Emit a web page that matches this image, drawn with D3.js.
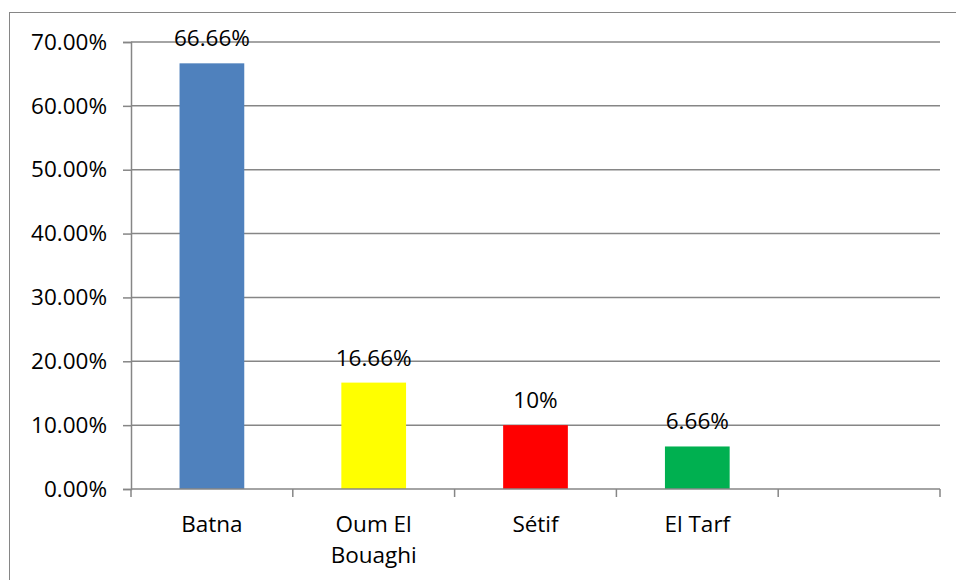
<!DOCTYPE html>
<html>
<head>
<meta charset="utf-8">
<script src="https://cdn.jsdelivr.net/npm/d3@7"></script>
<style>
  body { margin: 0; background: #fff; }
  text { font-family: "Open Sans", "Noto Sans", sans-serif; fill: #000; }
</style>
</head>
<body>
<script>
// chart data
const categories = ["Batna", "Oum El Bouaghi", "Sétif", "El Tarf", ""];
const values = [66.66, 16.66, 10, 6.66, null];
const valueLabels = ["66.66%", "16.66%", "10%", "6.66%", ""];
const barColors = ["#4F81BD", "#FFFF00", "#FF0000", "#00B050", "none"];
const yTicks = [0, 10, 20, 30, 40, 50, 60, 70];

const width = 956, height = 580;
const margin = { top: 42, right: 16, bottom: 91, left: 131 };
const fontSize = "22.5px";

const svg = d3.select("body").append("svg")
    .attr("width", width)
    .attr("height", height);

// outer chart border
svg.append("rect")
    .attr("x", 9.5).attr("y", 12.5)
    .attr("width", 960).attr("height", 600)
    .attr("fill", "none")
    .attr("stroke", "#868686")
    .attr("stroke-width", 1);

const x = d3.scaleBand()
    .domain(d3.range(categories.length))
    .range([margin.left, width - margin.right])
    .paddingInner(0.6)
    .paddingOuter(0.3);

const y = d3.scaleLinear()
    .domain([0, 70])
    .range([height - margin.bottom, margin.top]);

// gridlines
svg.append("g")
    .selectAll("line")
    .data(yTicks.filter(d => d > 0))
    .join("line")
    .attr("x1", margin.left)
    .attr("x2", width - margin.right)
    .attr("y1", d => y(d))
    .attr("y2", d => y(d))
    .attr("stroke", "#868686")
    .attr("stroke-width", 1.5);

// y axis
const yAxis = svg.append("g")
    .attr("transform", `translate(${margin.left},0)`)
    .call(d3.axisLeft(y).tickValues(yTicks).tickSize(8).tickPadding(16)
        .tickFormat(d => d.toFixed(2) + "%"));
yAxis.select(".domain").attr("stroke", "#868686").attr("stroke-width", 1.5);
yAxis.selectAll(".tick line").attr("stroke", "#868686").attr("stroke-width", 1.5);
yAxis.selectAll(".tick text").style("font-size", fontSize).attr("fill", "#000");

// bars
svg.append("g")
    .selectAll("rect")
    .data(values.map((v, i) => ({ v, i })).filter(d => d.v !== null))
    .join("rect")
    .attr("x", d => x(d.i))
    .attr("y", d => y(d.v))
    .attr("width", x.bandwidth())
    .attr("height", d => y(0) - y(d.v))
    .attr("fill", d => barColors[d.i]);

// x axis (category boundaries as ticks)
const step = x.step();
const xBase = y(0);
svg.append("line")
    .attr("x1", margin.left).attr("x2", width - margin.right)
    .attr("y1", xBase).attr("y2", xBase)
    .attr("stroke", "#868686").attr("stroke-width", 1.5);
svg.append("g")
    .selectAll("line")
    .data(d3.range(categories.length + 1))
    .join("line")
    .attr("x1", i => margin.left + i * step)
    .attr("x2", i => margin.left + i * step)
    .attr("y1", xBase).attr("y2", xBase + 8)
    .attr("stroke", "#868686").attr("stroke-width", 1.5);

// category labels, wrapped like the original
const wrapped = [["Batna"], ["Oum El", "Bouaghi"], ["Sétif"], ["El Tarf"], []];
svg.append("g")
    .selectAll("text")
    .data(wrapped.map((lines, i) => ({ lines, i })))
    .join("text")
    .attr("text-anchor", "middle")
    .style("font-size", fontSize)
    .each(function(d) {
        d3.select(this).selectAll("tspan")
            .data(d.lines)
            .join("tspan")
            .attr("x", x(d.i) + x.bandwidth() / 2)
            .attr("y", (l, k) => 532 + k * 31)
            .text(l => l);
    });

// value labels
svg.append("g")
    .selectAll("text")
    .data(values.map((v, i) => ({ v, i })).filter(d => d.v !== null))
    .join("text")
    .attr("x", d => x(d.i) + x.bandwidth() / 2)
    .attr("y", d => y(d.v) - 17)
    .attr("text-anchor", "middle")
    .style("font-size", fontSize)
    .text(d => valueLabels[d.i]);
</script>
</body>
</html>
